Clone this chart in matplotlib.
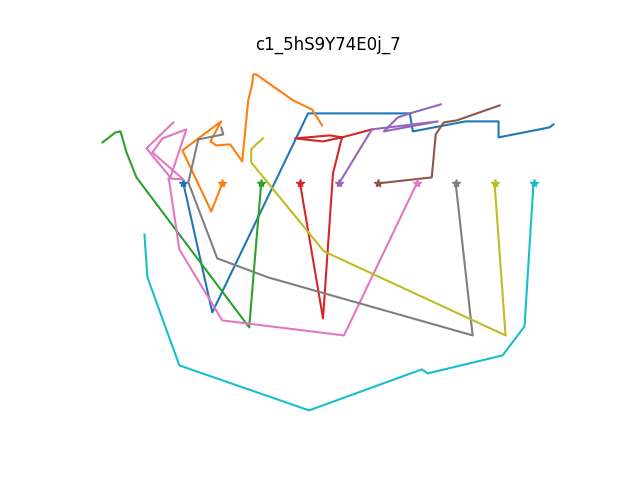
import matplotlib
matplotlib.use("Agg")
import matplotlib.pyplot as plt

# path points (x, y), y grows downward
blue_x = [183, 212, 308, 410, 413, 466, 499, 499, 550, 554]
blue_y = [183, 312, 113, 113, 131, 121, 121, 137, 127, 124]

orange_x = [222, 211, 182, 221, 210, 216, 230, 242, 248, 252, 253, 256, 293, 312, 322]
orange_y = [183, 211, 150, 121, 141, 145, 144, 161, 100, 84, 74, 74, 100, 109, 125]

green_x = [261, 249, 136, 126, 120, 115, 102]
green_y = [183, 327, 177, 152, 131, 132, 142]

red_x = [300, 323, 333, 342, 323, 295, 330, 342, 372]
red_y = [183, 318, 173, 137, 141, 138, 135, 137, 129]

purple_x = [339, 372, 438, 384, 398, 410, 441]
purple_y = [183, 129, 121, 131, 117, 113, 104]

brown_x = [378, 432, 436, 444, 457, 500]
brown_y = [183, 177, 134, 122, 120, 105]

pink_x = [417, 344, 222, 179, 169, 168, 183, 152, 162, 186, 170, 146, 173]
pink_y = [183, 335, 320, 249, 182, 178, 179, 152, 138, 129, 177, 148, 122]

gray_x = [456, 473, 268, 217, 188, 198, 223, 221]
gray_y = [183, 335, 277, 258, 182, 139, 134, 127]

olive_x = [495, 506, 324, 251, 251, 256, 263]
olive_y = [183, 335, 251, 162, 149, 144, 138]

cyan_x = [534, 525, 503, 428, 422, 309, 179, 147, 144]
cyan_y = [183, 326, 355, 373, 369, 410, 365, 277, 234]

paths = [(blue_x, blue_y), (orange_x, orange_y), (green_x, green_y),
         (red_x, red_y), (purple_x, purple_y), (brown_x, brown_y),
         (pink_x, pink_y), (gray_x, gray_y), (olive_x, olive_y),
         (cyan_x, cyan_y)]

fig, ax = plt.subplots(figsize=(6.4, 4.8), dpi=100)
for i, (xs, ys) in enumerate(paths):
    ax.plot(xs, ys, color="C%d" % i, marker="*", markevery=[0])  # star at start
ax.invert_yaxis()
ax.axis("off")
ax.set_title("c1_5hS9Y74E0j_7")
fig.savefig("out.png")
